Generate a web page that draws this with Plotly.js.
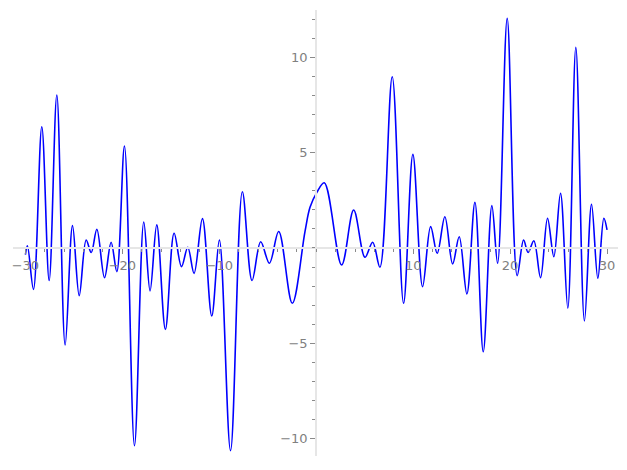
<!DOCTYPE html>
<html>
<head>
<meta charset="utf-8">
<script src="https://cdn.plot.ly/plotly-3.0.1.min.js"></script>
<style>html,body{margin:0;padding:0;background:#fff;}#chart{width:627px;height:470px;}</style>
</head>
<body>
<div id="chart"></div>
<script>
const xValues = [-30, -29.79, -29.17, -28.31, -27.55, -26.76, -25.9, -25.14, -24.45, -23.73, -23.21, -22.63, -21.84, -21.16, -20.57, -19.78, -18.75, -17.79, -17.14, -16.45, -15.56, -14.66, -13.9, -13.25, -12.6, -11.74, -10.78, -9.99, -8.84, -7.62, -6.62, -5.73, -4.83, -3.87, -2.47, -1.16, -0.64, 0.05, 0.83, 2.62, 3.86, 5.03, 5.82, 6.57, 7.84, 9.01, 9.97, 10.97, 11.8, 12.48, 13.27, 14.07, 14.75, 15.54, 16.37, 17.23, 18.12, 18.71, 19.70, 20.73, 21.39, 21.86, 22.45, 23.14, 23.86, 24.51, 25.20, 25.95, 26.78, 27.67, 28.40, 29.05, 29.67, 30];
const yValues = [-0.35, 0.12, -2.17, 6.36, -1.71, 8.02, -5.09, 1.17, -2.5, 0.42, -0.24, 0.98, -1.56, 0.30, -1.24, 5.35, -10.37, 1.36, -2.25, 1.21, -4.27, 0.77, -0.98, 0.04, -1.33, 1.54, -3.57, 0.42, -10.63, 2.95, -1.71, 0.33, -0.80, 0.86, -2.90, 0.86, 2.13, 2.9, 3.42, -0.89, 1.99, -0.49, 0.30, -1.01, 8.98, -2.90, 4.91, -2.03, 1.12, -0.28, 1.64, -0.84, 0.59, -2.41, 2.40, -5.44, 2.22, -0.80, 12.04, -1.45, 0.42, -0.24, 0.38, -1.56, 1.56, -0.46, 2.87, -3.16, 10.52, -3.83, 2.29, -1.59, 1.56, 0.95];

const xTickVals = [-30, -20, -10, 10, 20, 30];
const xTickText = ['\u221230', '\u221220', '\u221210', '10', '20', '30'];
const yTickVals = [-10, -5, 5, 10];
const yTickText = ['\u221210', '\u22125', '5', '10'];
const xMinorVals = [-30,-28,-26,-24,-22,-20,-18,-16,-14,-12,-10,-8,-6,-4,-2,0,2,4,6,8,10,12,14,16,18,20,22,24,26,28,30];
const yMinorVals = [-11,-10,-9,-8,-7,-6,-5,-4,-3,-2,-1,0,1,2,3,4,5,6,7,8,9,10,11,12];

const xRange = [-31.28, 31.13];
const yRange = [-10.91, 12.48];

const axisCommon = {
  showgrid: false, zeroline: false, showline: true,
  linecolor: '#e6e6e6', linewidth: 2,
  ticks: 'outside', ticklen: 5, tickwidth: 1, tickcolor: '#8a8a8a',
  tickfont: {family: 'DejaVu Sans', size: 13, color: '#808080'},
  anchor: 'free', tickmode: 'array'
};

const layout = {
  width: 627, height: 470,
  margin: {l: 13, r: 9, t: 10, b: 14, pad: 0},
  paper_bgcolor: '#ffffff', plot_bgcolor: '#ffffff',
  showlegend: false,
  xaxis: Object.assign({}, axisCommon, {
    range: xRange, tickvals: xTickVals, ticktext: xTickText,
    position: (0 - yRange[0]) / (yRange[1] - yRange[0]),
    minor: {tickmode: 'array', tickvals: xMinorVals, ticks: 'outside', ticklen: 3, tickcolor: '#8a8a8a', tickwidth: 1}
  }),
  yaxis: Object.assign({}, axisCommon, {
    range: yRange, tickvals: yTickVals, ticktext: yTickText,
    position: (0 - xRange[0]) / (xRange[1] - xRange[0]),
    minor: {tickmode: 'array', tickvals: yMinorVals, ticks: 'outside', ticklen: 3, tickcolor: '#8a8a8a', tickwidth: 1}
  })
};

const trace = {
  x: xValues, y: yValues, type: 'scatter', mode: 'lines',
  line: {color: '#0000ff', width: 1.6, shape: 'spline', smoothing: 1},
  hoverinfo: 'skip'
};

Plotly.newPlot('chart', [trace], layout, {displayModeBar: false, staticPlot: true});
</script>
</body>
</html>
